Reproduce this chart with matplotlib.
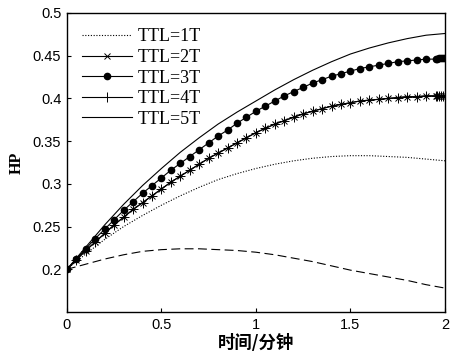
import numpy as np
import matplotlib
matplotlib.use('Agg')
import matplotlib.pyplot as plt

# time grid for the marker curves (denser at the very end, as in the figure)
t_mark = [0.00, 0.05, 0.10, 0.15, 0.20, 0.25, 0.30, 0.35, 0.40, 0.45,
          0.50, 0.55, 0.60, 0.65, 0.70, 0.75, 0.80, 0.85, 0.90, 0.95,
          1.00, 1.05, 1.10, 1.15, 1.20, 1.25, 1.30, 1.35, 1.40, 1.45,
          1.50, 1.55, 1.60, 1.65, 1.70, 1.75, 1.80, 1.85, 1.90, 1.95,
          1.96, 1.97, 1.98, 1.99, 2.00]

ttl3 = [0.200, 0.212, 0.224, 0.236, 0.247, 0.258, 0.269, 0.279, 0.289, 0.298,
        0.307, 0.316, 0.324, 0.332, 0.340, 0.348, 0.356, 0.363, 0.371, 0.378,
        0.385, 0.391, 0.397, 0.403, 0.408, 0.413, 0.418, 0.422, 0.426, 0.429,
        0.432, 0.435, 0.437, 0.439, 0.441, 0.443, 0.444, 0.445, 0.446, 0.446,
        0.446, 0.447, 0.447, 0.447, 0.447]

ttl2 = [0.200, 0.211, 0.222, 0.232, 0.242, 0.252, 0.261, 0.270, 0.278, 0.286,
        0.294, 0.302, 0.309, 0.316, 0.323, 0.330, 0.336, 0.342, 0.348, 0.354,
        0.360, 0.365, 0.370, 0.374, 0.378, 0.382, 0.385, 0.388, 0.391, 0.393,
        0.395, 0.397, 0.398, 0.399, 0.400, 0.401, 0.402, 0.402, 0.403, 0.403,
        0.403, 0.403, 0.403, 0.403, 0.403]

# TTL=4T lies on top of TTL=2T (x and + combine into asterisks)
ttl4 = [0.200, 0.211, 0.222, 0.232, 0.242, 0.252, 0.261, 0.270, 0.278, 0.286,
        0.294, 0.302, 0.309, 0.316, 0.323, 0.330, 0.336, 0.342, 0.348, 0.354,
        0.360, 0.365, 0.370, 0.374, 0.378, 0.382, 0.385, 0.388, 0.391, 0.393,
        0.395, 0.397, 0.398, 0.399, 0.400, 0.401, 0.402, 0.402, 0.403, 0.403,
        0.403, 0.403, 0.403, 0.403, 0.403]

# time grid for the plain curves
t_line = [0.0, 0.1, 0.2, 0.3, 0.4, 0.5, 0.6, 0.7, 0.8, 0.9, 1.0,
          1.1, 1.2, 1.3, 1.4, 1.5, 1.6, 1.7, 1.8, 1.9, 2.0]

ttl5 = [0.200, 0.226, 0.252, 0.276, 0.298, 0.318, 0.337, 0.354, 0.370, 0.384, 0.397,
        0.410, 0.422, 0.433, 0.443, 0.452, 0.459, 0.465, 0.470, 0.474, 0.476]

ttl1 = [0.200, 0.218, 0.235, 0.250, 0.263, 0.275, 0.286, 0.296, 0.305, 0.312, 0.318,
        0.323, 0.327, 0.330, 0.332, 0.333, 0.333, 0.332, 0.331, 0.329, 0.327]

other = [0.200, 0.206, 0.212, 0.217, 0.221, 0.223, 0.224, 0.224, 0.223, 0.222, 0.220,
         0.217, 0.213, 0.209, 0.204, 0.199, 0.195, 0.191, 0.187, 0.182, 0.178]

fig = plt.figure(figsize=(4.52, 3.57), dpi=100)
ax = fig.add_axes([0.148, 0.126, 0.8365, 0.8376])

ax.plot(t_line, ttl1, color='black', lw=0.8, ls=(0, (1, 1.5)), label='TTL=1T')
ax.plot(t_mark, ttl2, color='black', lw=0.8, marker='x', ms=5, mew=0.7, label='TTL=2T')
ax.plot(t_mark, ttl3, color='black', lw=0.8, marker='o', ms=4.5, label='TTL=3T')
ax.plot(t_mark, ttl4, color='black', lw=0.8, marker='+', ms=7, mew=0.7, label='TTL=4T')
ax.plot(t_line, ttl5, color='black', lw=0.8, label='TTL=5T')
ax.plot(t_line, other, color='black', lw=0.8, ls=(0, (8, 4)))

ax.set_xlim(0, 2)
ax.set_ylim(0.15, 0.5)
ax.set_xticks([0, 0.5, 1, 1.5, 2])
ax.set_xticklabels(['0', '0.5', '1', '1.5', '2'])
ax.set_yticks([0.2, 0.25, 0.3, 0.35, 0.4, 0.45, 0.5])
ax.set_yticklabels(['0.2', '0.25', '0.3', '0.35', '0.4', '0.45', '0.5'])
ax.tick_params(direction='in', length=3, width=0.8, labelsize=10.5, pad=4)
for lab in ax.get_xticklabels() + ax.get_yticklabels():
    lab.set_family('Liberation Sans')
for sp in ax.spines.values():
    sp.set_linewidth(1.0)

ax.set_xlabel('时间/分钟', family=['Noto Sans CJK SC', 'DejaVu Sans'],
              fontsize=12.5, fontweight='bold', labelpad=2)
ax.set_ylabel('HP', family='Liberation Serif', fontsize=11.5,
              fontweight='bold', labelpad=6)

leg = ax.legend(loc='upper left', frameon=False, numpoints=1,
                prop={'family': 'Liberation Serif', 'size': 13},
                handlelength=2.75, handletextpad=0.3, labelspacing=0.2,
                borderaxespad=0.5, borderpad=0.35)

fig.savefig('out.png', dpi=100)
